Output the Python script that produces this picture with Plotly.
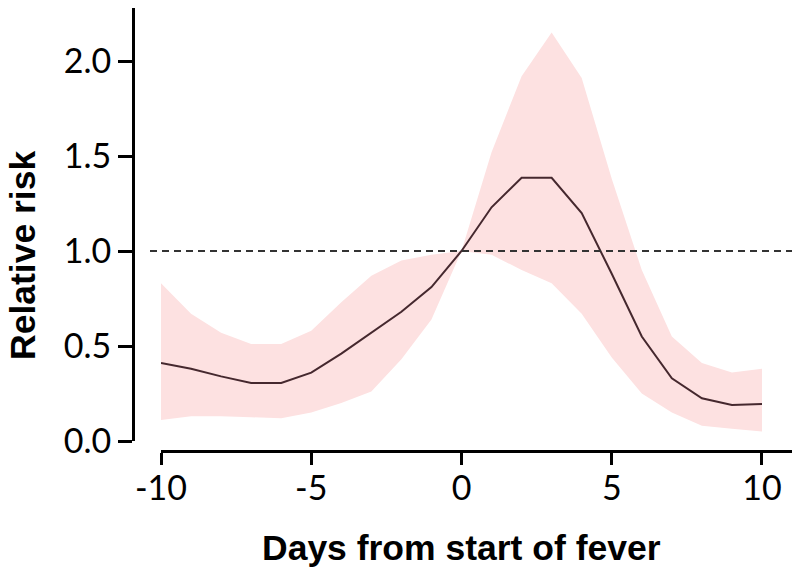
import plotly.graph_objects as go

days = list(range(-10, 11))
relative_risk = [0.41, 0.38, 0.34, 0.305, 0.305, 0.36, 0.46, 0.57, 0.68, 0.81, 1.0,
                 1.23, 1.385, 1.385, 1.2, 0.88, 0.55, 0.33, 0.225, 0.19, 0.195]
upper_ci = [0.83, 0.67, 0.57, 0.51, 0.51, 0.58, 0.73, 0.87, 0.95, 0.98, 1.0,
            1.52, 1.92, 2.15, 1.91, 1.38, 0.9, 0.55, 0.41, 0.36, 0.38]
lower_ci = [0.11, 0.13, 0.13, 0.125, 0.12, 0.15, 0.2, 0.26, 0.43, 0.64, 1.0,
            0.98, 0.9, 0.83, 0.67, 0.44, 0.25, 0.15, 0.08, 0.065, 0.05]
x_ticks = [-10, -5, 0, 5, 10]
y_ticks = [0.0, 0.5, 1.0, 1.5, 2.0]
reference_level = 1.0

W, H = 800, 574
OFF = 8  # page body margin


def px(x):
    return (x - OFF) / W


def py(y):
    return min(1.0, (H - (y - OFF)) / H)


fig = go.Figure()
fig.add_trace(go.Scatter(
    x=days + days[::-1], y=upper_ci + lower_ci[::-1],
    fill="toself", fillcolor="rgb(253,225,225)", line=dict(width=0),
    mode="lines", hoverinfo="skip", showlegend=False))
fig.add_trace(go.Scatter(
    x=days, y=relative_risk, mode="lines",
    line=dict(color="#45282e", width=2), showlegend=False))

fig.add_shape(type="line", xref="paper", yref="y",
              x0=px(150), x1=px(793), y0=reference_level, y1=reference_level,
              line=dict(color="#333333", width=2, dash="7px,5px"))

tickfont = dict(family="Lato", size=34, color="black")
fig.update_layout(
    template="none",
    width=W, height=H, margin=dict(l=0, r=0, t=0, b=0, pad=0, autoexpand=False),
    paper_bgcolor="white", plot_bgcolor="white",
    xaxis=dict(domain=[px(161), px(797)], range=[-10, 11.165],
               anchor="free", position=py(451), automargin=False,
               tickvals=x_ticks, ticktext=[str(v) for v in x_ticks],
               showline=True, linewidth=3, linecolor="black",
               ticks="outside", ticklen=12, tickwidth=3, tickcolor="black",
               tickfont=tickfont, showgrid=False, zeroline=False,
               ticklabelstandoff=-6),
    yaxis=dict(domain=[py(441), 1.0], range=[0, (441 - OFF) / 190],
               anchor="free", position=px(133), automargin=False,
               tickvals=y_ticks, ticktext=[f"{v:.1f}" for v in y_ticks],
               showline=True, linewidth=3, linecolor="black",
               ticks="outside", ticklen=14, tickwidth=3, tickcolor="black",
               tickfont=tickfont, showgrid=False, zeroline=False,
               ticklabelstandoff=0),
    annotations=[
        dict(text="<b>Days from start of fever</b>", xref="paper", yref="paper",
             x=px(461), y=py(548), xanchor="center", yanchor="middle",
             showarrow=False,
             font=dict(family="Liberation Sans", size=35.5, color="black")),
        dict(text="<b>Relative risk</b>", xref="paper", yref="paper",
             x=px(23), y=py(256), xanchor="center", yanchor="middle",
             showarrow=False, textangle=-90,
             font=dict(family="Liberation Sans", size=35.5, color="black")),
    ],
)
fig.write_html("out.html")
